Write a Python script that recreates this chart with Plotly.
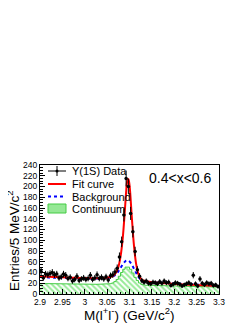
import numpy as np
import plotly.graph_objects as go

# ---------------- data ----------------
bin_lo = 2.9
bin_width = 0.005
counts = [42, 30, 37, 36, 38, 40, 36, 37, 30, 32,
          37, 35, 29, 31, 24, 27, 33, 25, 28, 30,
          27, 29, 35, 27, 30, 36, 29, 31, 28, 32,
          26, 34, 36, 41, 48, 69, 97, 147, 215, 200,
          150, 116, 79, 45, 33, 25, 22, 24, 20, 19,
          22, 21, 19, 23, 20, 24, 21, 22, 16, 18,
          21, 20, 18, 15, 17, 19, 21, 18, 35, 19,
          15, 28, 20, 17, 21, 19, 20, 16, 17, 14]

continuum = [19.5, 19.4, 19.3, 19.2, 19.1, 19, 19, 18.9, 18.8, 18.8,
             18.7, 18.6, 18.6, 18.5, 18.5, 18.4, 18.4, 18.3, 18.3, 18.2,
             18.2, 18.2, 18.1, 18.1, 18.1, 18, 18, 18, 18.1, 18.3,
             18.6, 19.2, 20.5, 23, 27, 33, 40, 46, 50, 50,
             46, 39, 31, 25, 20.5, 18, 16.8, 16.3, 16.1, 16,
             15.9, 15.8, 15.7, 15.6, 15.5, 15.4, 15.3, 15.2, 15.1, 15,
             14.9, 14.8, 14.7, 14.6, 14.5, 14.4, 14.3, 14.2, 14.1, 14,
             13.9, 13.8, 13.7, 13.6, 13.5, 13.4, 13.3, 13.2, 13.1, 13]

background = [31.5, 31.3, 31.1, 30.9, 30.7, 30.5, 30.4, 30.2, 30.1, 30,
              29.9, 29.8, 29.7, 29.6, 29.5, 29.4, 29.3, 29.3, 29.2, 29.1,
              29.1, 29, 29, 29, 29, 29, 29, 29.1, 29.3, 29.6,
              30.1, 31, 32.5, 35, 39, 45, 52, 58, 62, 62,
              58, 51, 43, 35, 29, 25.5, 23.8, 23, 22.6, 22.3,
              22, 21.7, 21.5, 21.2, 21, 20.8, 20.5, 20.3, 20.1, 19.9,
              19.6, 19.4, 19.2, 19, 18.8, 18.5, 18.3, 18.1, 17.9, 17.6,
              17.4, 17.2, 17, 16.7, 16.5, 16.2, 16, 15.7, 15.5, 15.2]

fit_x = [2.9, 2.92, 2.94, 2.96, 2.98, 3.0, 3.02, 3.04, 3.05, 3.06, 3.065,
         3.07, 3.075, 3.08, 3.085, 3.09, 3.0925, 3.095, 3.0975, 3.1, 3.105,
         3.11, 3.115, 3.12, 3.125, 3.13, 3.14, 3.15, 3.17, 3.2, 3.23, 3.26, 3.3]
fit_y = [33, 32.2, 31.4, 30.7, 30.1, 29.7, 29.5, 29.7, 30.4, 32.5, 35,
         40, 50, 70, 105, 160, 190, 210, 214, 203, 145,
         90, 55, 37, 29, 25.5, 23.2, 22, 20.6, 18.8, 17.4, 16.2, 15]

xtick_vals = [2.9, 2.95, 3.0, 3.05, 3.1, 3.15, 3.2, 3.25, 3.3]
xtick_text = ["2.9", "2.95", "3", "3.05", "3.1", "3.15", "3.2", "3.25", "3.3"]

legend_labels = ["\u03a5(1S) Data", "Fit curve", "Background", "Continuum"]
label_text = "0.4<x<0.6"

# ---------------- geometry ----------------
# page has an 8px body margin, so the figure is 241x315 placed at (8, 8)
OFF = 8
W, H = 241, 315
L, R, T, B = 32, 30, 157, 29
PW, PH = W - L - R, H - T - B
FONT = "Liberation Sans, Arial, sans-serif"

def px(xp):  # page pixel -> paper x
    return (xp - OFF - L) / PW

def py(yp):  # page pixel -> paper y
    return (H - B - (yp - OFF)) / PH

n = len(counts)
edges = [bin_lo + bin_width * i for i in range(n + 1)]
centers = [(edges[i] + edges[i + 1]) / 2 for i in range(n)]
errs = list(np.sqrt(np.array(counts, dtype=float)))

step_x, step_y = [], []
for i in range(n):
    step_x += [edges[i], edges[i + 1]]
    step_y += [continuum[i], continuum[i]]

fig = go.Figure()
fig.add_trace(go.Scatter(
    x=step_x, y=step_y, mode="lines", fill="tozeroy",
    line=dict(color="#44cc44", width=1),
    fillpattern=dict(shape="\\", fgcolor="#2fd62f", bgcolor="white",
                     size=4, solidity=0.5),
    showlegend=False, hoverinfo="skip"))
fig.add_trace(go.Scatter(
    x=centers, y=background, mode="lines", line_shape="spline",
    line=dict(color="#0000ff", width=2, dash="dot"),
    showlegend=False))
fig.add_trace(go.Scatter(
    x=fit_x, y=fit_y, mode="lines", line_shape="spline",
    line=dict(color="#ff0000", width=2), showlegend=False))
fig.add_trace(go.Scatter(
    x=centers, y=counts, mode="markers",
    marker=dict(color="black", size=3.5),
    error_y=dict(type="data", array=errs, thickness=1, width=0, color="black"),
    error_x=dict(type="constant", value=bin_width / 2, thickness=1, width=0,
                 color="black"),
    showlegend=False))

shapes = []
# legend: data
shapes.append(dict(type="line", xref="paper", yref="paper",
                   x0=px(48), x1=px(66), y0=py(171), y1=py(171),
                   line=dict(color="black", width=1)))
shapes.append(dict(type="line", xref="paper", yref="paper",
                   x0=px(57), x1=px(57), y0=py(166), y1=py(176),
                   line=dict(color="black", width=1)))
shapes.append(dict(type="circle", xref="paper", yref="paper",
                   x0=px(55.5), x1=px(58.5), y0=py(169.5), y1=py(172.5),
                   fillcolor="black", line=dict(color="black", width=0)))
# legend: fit curve
shapes.append(dict(type="line", xref="paper", yref="paper",
                   x0=px(48), x1=px(66), y0=py(184), y1=py(184),
                   line=dict(color="#ff0000", width=2)))
# legend: background
shapes.append(dict(type="line", xref="paper", yref="paper",
                   x0=px(48), x1=px(66), y0=py(196.5), y1=py(196.5),
                   line=dict(color="#0000ff", width=2, dash="dot")))
# legend: continuum
shapes.append(dict(type="rect", xref="paper", yref="paper",
                   x0=px(48), x1=px(66), y0=py(204), y1=py(213),
                   fillcolor="#95e895", line=dict(color="#44cc44", width=1)))

ann = []
for lab, yc in zip(legend_labels, [170.5, 184, 196.5, 208.5]):
    ann.append(dict(text=lab, xref="paper", yref="paper", x=px(70), y=py(yc),
                    xanchor="left", yanchor="middle", showarrow=False,
                    font=dict(family=FONT, size=11, color="black")))
ann.append(dict(text=label_text, xref="paper", yref="paper", x=px(213), y=py(178),
                xanchor="right", yanchor="middle", showarrow=False,
                font=dict(family=FONT, size=14, color="black")))
ann.append(dict(text="M(l<sup>+</sup>l<sup>-</sup>) (GeV/c<sup>2</sup>)",
                xref="paper", yref="paper", x=px(129), y=py(314),
                xanchor="center", yanchor="middle", showarrow=False,
                font=dict(family=FONT, size=13.5, color="black")))
ann.append(dict(text="Entries/5 MeV/c<sup>2</sup>", textangle=-90,
                xref="paper", yref="paper", x=px(13), y=py(241),
                xanchor="center", yanchor="middle", showarrow=False,
                font=dict(family=FONT, size=13.5, color="black")))

fig.update_layout(
    width=W, height=H, margin=dict(l=L, r=R, t=T, b=B, autoexpand=False),
    paper_bgcolor="white", plot_bgcolor="white",
    font=dict(family=FONT, color="black"),
    shapes=shapes, annotations=ann, showlegend=False,
    xaxis=dict(range=[2.9, 3.3], tickvals=xtick_vals, ticktext=xtick_text,
               ticks="inside", ticklen=5, tickwidth=1, tickcolor="black",
               minor=dict(ticks="inside", ticklen=2.5, dtick=0.01, tick0=2.9,
                          tickcolor="black", showgrid=False),
               showline=True, linecolor="black", linewidth=1, mirror=True,
               showgrid=False, zeroline=False,
               tickfont=dict(family=FONT, size=8.5, color="black")),
    yaxis=dict(range=[0, 240], dtick=20, tick0=0,
               ticks="inside", ticklen=5, tickwidth=1, tickcolor="black",
               minor=dict(ticks="inside", ticklen=2.5, dtick=5,
                          tickcolor="black", showgrid=False),
               showline=True, linecolor="black", linewidth=1, mirror=True,
               showgrid=False, zeroline=False,
               tickfont=dict(family=FONT, size=8.5, color="black")),
)

fig.write_html("out.html")
